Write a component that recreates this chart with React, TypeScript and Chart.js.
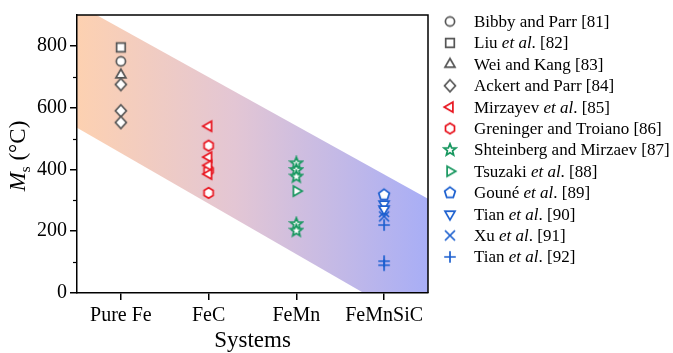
import React, { useEffect, useRef } from 'react';
import { Chart, registerables } from 'chart.js';

Chart.register(...registerables);

// ---------- data ----------
const categories = ['Pure Fe', 'FeC', 'FeMn', 'FeMnSiC'];
const yTicks = [0, 200, 400, 600, 800];
const yMinorTicks = [100, 300, 500, 700];

// Ms values (°C) per reference; category index given separately
const bibbyParr = [750];            // Pure Fe
const liu = [795];                  // Pure Fe
const weiKang = [706];              // Pure Fe
const ackertParr = [675, 590, 552]; // Pure Fe
const mirzayev = [540, 440, 413, 385];      // FeC
const greninger = [477, 397, 324];          // FeC
const shteinberg = [420, 398, 377, 223, 202]; // FeMn
const tsuzaki = [330];                      // FeMn
const goune = [318];                        // FeMnSiC
const tian90 = [288, 272];                  // FeMnSiC
const xu = [262, 248];                      // FeMnSiC
const tian92 = [220, 103, 90];              // FeMnSiC

// band (shaded region) corners in data space: x = category index
const bandUpper = [935, 305]; // at x = -0.5 and x = 3.5
const bandLower = [535, -120];

const GRAY = '#555555';
const RED = '#e8141e';
const GREEN = '#17975f';
const BLUE = '#1b5fcf';

type Series = { label: string; cat: number; values: number[]; shape: string; color: string };
const series: Series[] = [
  { label: 'Bibby and Parr [81]', cat: 0, values: bibbyParr, shape: 'circle', color: GRAY },
  { label: 'Liu *et al*. [82]', cat: 0, values: liu, shape: 'square', color: GRAY },
  { label: 'Wei and Kang [83]', cat: 0, values: weiKang, shape: 'triUp', color: GRAY },
  { label: 'Ackert and Parr [84]', cat: 0, values: ackertParr, shape: 'diamond', color: GRAY },
  { label: 'Mirzayev *et al*. [85]', cat: 1, values: mirzayev, shape: 'triLeft', color: RED },
  { label: 'Greninger and Troiano [86]', cat: 1, values: greninger, shape: 'hexagon', color: RED },
  { label: 'Shteinberg and Mirzaev [87]', cat: 2, values: shteinberg, shape: 'star', color: GREEN },
  { label: 'Tsuzaki *et al*. [88]', cat: 2, values: tsuzaki, shape: 'triRight', color: GREEN },
  { label: 'Gouné *et al*. [89]', cat: 3, values: goune, shape: 'pentagon', color: BLUE },
  { label: 'Tian *et al*. [90]', cat: 3, values: tian90, shape: 'triDown', color: BLUE },
  { label: 'Xu *et al*. [91]', cat: 3, values: xu, shape: 'cross', color: BLUE },
  { label: 'Tian *et al*. [92]', cat: 3, values: tian92, shape: 'plus', color: BLUE },
];

const FONT = '"Liberation Serif", "Times New Roman", serif';

function polygon(ctx: CanvasRenderingContext2D, n: number, r: number, startDeg: number) {
  ctx.beginPath();
  for (let i = 0; i < n; i++) {
    const a = ((startDeg + (360 / n) * i) * Math.PI) / 180;
    const x = r * Math.cos(a);
    const y = r * Math.sin(a);
    if (i === 0) ctx.moveTo(x, y);
    else ctx.lineTo(x, y);
  }
  ctx.closePath();
}

function makeMarker(shape: string, color: string): HTMLCanvasElement {
  const s = 16;
  const c = document.createElement('canvas');
  c.width = s;
  c.height = s;
  const ctx = c.getContext('2d')!;
  ctx.translate(s / 2, s / 2);
  ctx.lineWidth = 1.7;
  ctx.strokeStyle = color;
  ctx.fillStyle = 'white';
  let closed = true;
  switch (shape) {
    case 'circle':
      ctx.beginPath();
      ctx.arc(0, 0, 4.6, 0, Math.PI * 2);
      break;
    case 'square':
      ctx.beginPath();
      ctx.rect(-4.3, -4.3, 8.6, 8.6);
      break;
    case 'triUp':
      polygon(ctx, 3, 5.8, -90);
      break;
    case 'triDown':
      polygon(ctx, 3, 5.8, 90);
      break;
    case 'triLeft':
      polygon(ctx, 3, 5.8, 180);
      break;
    case 'triRight':
      polygon(ctx, 3, 5.8, 0);
      break;
    case 'diamond':
      ctx.beginPath();
      ctx.moveTo(0, -6);
      ctx.lineTo(5.5, 0);
      ctx.lineTo(0, 6);
      ctx.lineTo(-5.5, 0);
      ctx.closePath();
      break;
    case 'hexagon':
      polygon(ctx, 6, 5.2, -90);
      break;
    case 'pentagon':
      polygon(ctx, 5, 5.6, -90);
      break;
    case 'star': {
      ctx.beginPath();
      for (let i = 0; i < 10; i++) {
        const r = i % 2 === 0 ? 6.2 : 2.7;
        const a = ((-90 + 36 * i) * Math.PI) / 180;
        const x = r * Math.cos(a);
        const y = r * Math.sin(a);
        if (i === 0) ctx.moveTo(x, y);
        else ctx.lineTo(x, y);
      }
      ctx.closePath();
      break;
    }
    case 'cross':
      closed = false;
      ctx.beginPath();
      ctx.moveTo(-5, -5);
      ctx.lineTo(5, 5);
      ctx.moveTo(5, -5);
      ctx.lineTo(-5, 5);
      break;
    case 'plus':
      closed = false;
      ctx.beginPath();
      ctx.moveTo(-5.8, 0);
      ctx.lineTo(5.8, 0);
      ctx.moveTo(0, -5.8);
      ctx.lineTo(0, 5.8);
      break;
  }
  if (closed) ctx.fill();
  ctx.stroke();
  return c;
}

function drawRich(ctx: CanvasRenderingContext2D, text: string, x: number, y: number, size: number) {
  const parts = text.split('*');
  let cx = x;
  parts.forEach((p, i) => {
    ctx.font = `${i % 2 === 1 ? 'italic ' : ''}${size}px ${FONT}`;
    ctx.fillText(p, cx, y);
    cx += ctx.measureText(p).width;
  });
}

export default function App() {
  const ref = useRef<HTMLCanvasElement | null>(null);

  useEffect(() => {
    document.body.style.margin = '0';
    const canvas = ref.current!;
    const markers = series.map((s) => makeMarker(s.shape, s.color));

    const bandPlugin = {
      id: 'band',
      beforeDraw(chart: any) {
        const { ctx, chartArea: a, scales } = chart;
        const xs = scales.x;
        const ys = scales.y;
        ctx.save();
        ctx.beginPath();
        ctx.rect(a.left, a.top, a.right - a.left, a.bottom - a.top);
        ctx.clip();
        const g = ctx.createLinearGradient(a.left, 0, a.right, 0);
        g.addColorStop(0, '#fdd1b1');
        g.addColorStop(0.45, '#e3c6d4');
        g.addColorStop(1, '#a8aef6');
        ctx.fillStyle = g;
        ctx.beginPath();
        ctx.moveTo(xs.getPixelForValue(-0.5), ys.getPixelForValue(bandUpper[0]));
        ctx.lineTo(xs.getPixelForValue(3.5), ys.getPixelForValue(bandUpper[1]));
        ctx.lineTo(xs.getPixelForValue(3.5), ys.getPixelForValue(bandLower[1]));
        ctx.lineTo(xs.getPixelForValue(-0.5), ys.getPixelForValue(bandLower[0]));
        ctx.closePath();
        ctx.fill();
        ctx.restore();
      },
      afterDraw(chart: any) {
        const { ctx, chartArea: a, scales } = chart;
        const ys = scales.y;
        ctx.save();
        // frame top/right
        ctx.strokeStyle = 'black';
        ctx.lineWidth = 1.5;
        ctx.beginPath();
        ctx.moveTo(a.left, a.top);
        ctx.lineTo(a.right, a.top);
        ctx.lineTo(a.right, a.bottom);
        ctx.stroke();
        // minor ticks
        ctx.lineWidth = 1.2;
        yMinorTicks.forEach((v) => {
          const py = Math.round(ys.getPixelForValue(v)) + 0.5;
          ctx.beginPath();
          ctx.moveTo(a.left, py);
          ctx.lineTo(a.left - 4, py);
          ctx.stroke();
        });
        // x title
        ctx.fillStyle = 'black';
        ctx.textAlign = 'center';
        ctx.textBaseline = 'alphabetic';
        ctx.font = `23px ${FONT}`;
        ctx.fillText('Systems', (a.left + a.right) / 2, 347);
        // y title: M_s (°C)
        ctx.translate(25, (a.top + a.bottom) / 2 + 2);
        ctx.rotate(-Math.PI / 2);
        ctx.textAlign = 'left';
        ctx.font = `italic 23px ${FONT}`;
        const wM = ctx.measureText('M').width;
        ctx.font = `15px ${FONT}`;
        const wS = ctx.measureText('s').width;
        ctx.font = `23px ${FONT}`;
        const wR = ctx.measureText(' (°C)').width;
        let x0 = -(wM + wS + wR) / 2;
        ctx.font = `italic 23px ${FONT}`;
        ctx.fillText('M', x0, 0);
        x0 += wM;
        ctx.font = `15px ${FONT}`;
        ctx.fillText('s', x0, 5);
        x0 += wS;
        ctx.font = `23px ${FONT}`;
        ctx.fillText(' (°C)', x0, 0);
        ctx.restore();
        // legend
        ctx.save();
        ctx.fillStyle = 'black';
        ctx.textAlign = 'left';
        ctx.textBaseline = 'middle';
        series.forEach((s, i) => {
          const y = 21.5 + i * 21.4;
          const m = markers[i];
          ctx.drawImage(m, 450 - m.width / 2, y - m.height / 2);
          drawRich(ctx, s.label, 474, y + 1, 17);
        });
        ctx.restore();
      },
    };

    const chart = new Chart(canvas, {
      type: 'scatter',
      data: {
        datasets: series.map((s, i) => ({
          label: s.label.replace(/\*/g, ''),
          data: s.values.map((v) => ({ x: s.cat, y: v })),
          pointStyle: markers[i] as any,
          pointRadius: 6,
          borderColor: s.color,
          backgroundColor: 'white',
        })),
      },
      options: {
        responsive: false,
        animation: false,
        events: [],
        layout: { padding: { top: 10, right: 245, left: 0, bottom: 0 } },
        plugins: { legend: { display: false }, tooltip: { enabled: false } },
        scales: {
          x: {
            type: 'linear',
            min: -0.5,
            max: 3.5,
            afterBuildTicks: (sc: any) => {
              sc.ticks = categories.map((_, i) => ({ value: i }));
            },
            afterFit: (sc: any) => {
              sc.height = 60;
            },
            ticks: {
              callback: (v: any) => categories[v] ?? '',
              color: 'black',
              font: { size: 20, family: FONT },
              padding: 4,
              maxRotation: 0,
              autoSkip: false,
            },
            grid: { display: true, drawOnChartArea: false, tickLength: 7, color: 'black', lineWidth: 1.5 },
            border: { display: true, color: 'black', width: 1.5 },
          },
          y: {
            min: 0,
            max: 900,
            afterBuildTicks: (sc: any) => {
              sc.ticks = yTicks.map((v) => ({ value: v }));
            },
            afterFit: (sc: any) => {
              sc.width = 77;
            },
            ticks: {
              color: 'black',
              font: { size: 20, family: FONT },
              padding: 3,
            },
            grid: { display: true, drawOnChartArea: false, tickLength: 7, color: 'black', lineWidth: 1.5 },
            border: { display: true, color: 'black', width: 1.5 },
          },
        },
      },
      plugins: [bandPlugin],
    });
    return () => chart.destroy();
  }, []);

  return (
    <div style={{ position: 'absolute', left: 0, top: 0, width: 673, height: 353 }}>
      <canvas ref={ref} width={673} height={353} />
    </div>
  );
}
